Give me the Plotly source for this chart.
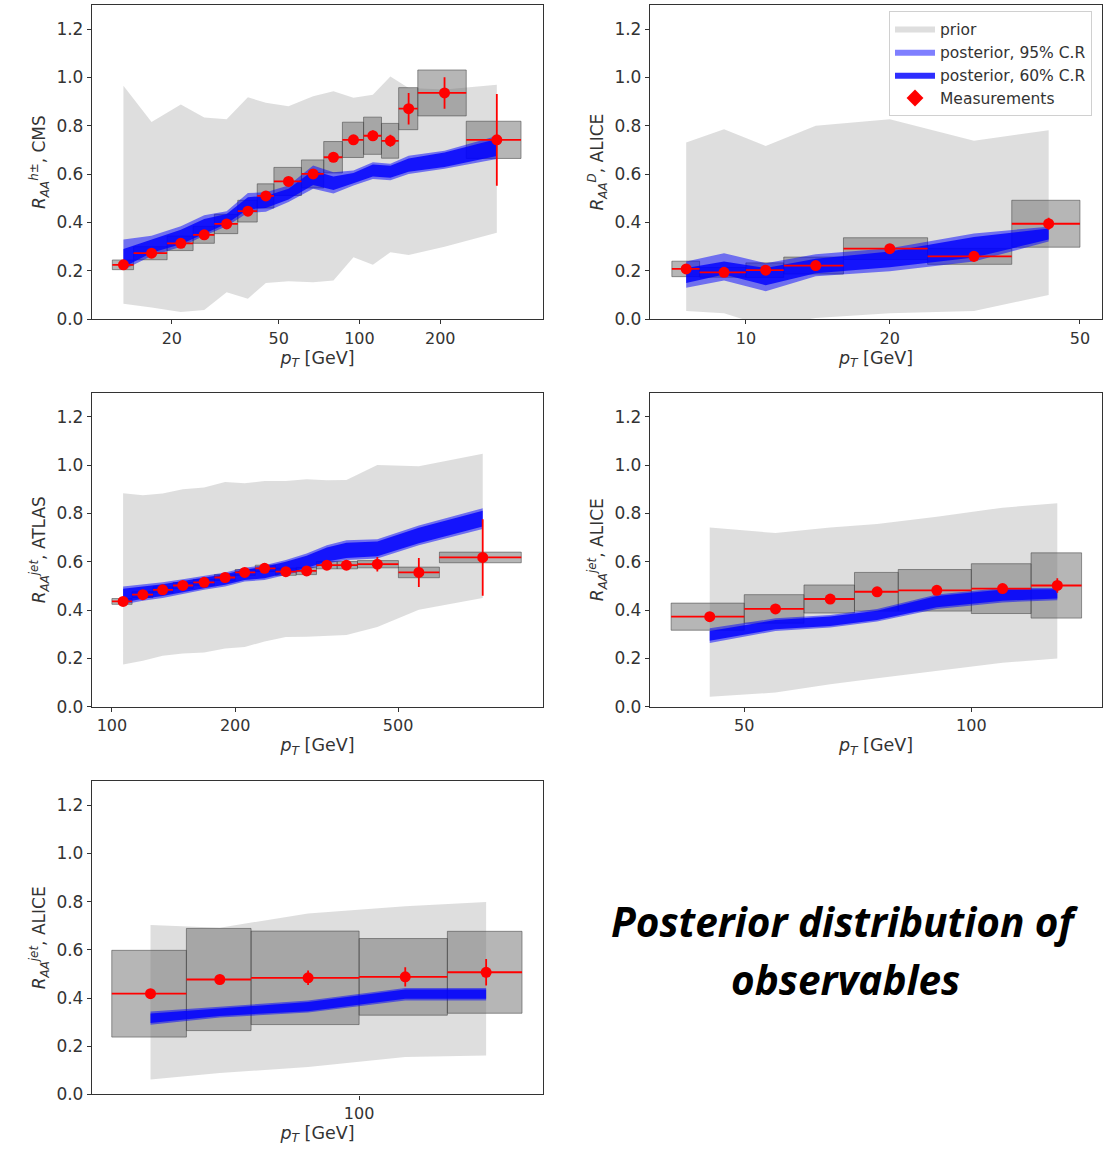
import math
import plotly.graph_objects as go

# ---------------- data ----------------
# Panel 1: charged hadrons, CMS
cms_edges = [12, 14.4, 19.2, 24, 28.8, 35.2, 41.6, 48, 60.8, 73.6, 86.4, 103.6, 120.8, 140, 165, 250, 400]
cms_pt = [13.2, 16.8, 21.6, 26.4, 32.0, 38.4, 44.8, 54.4, 67.2, 80.0, 95.0, 112.2, 130.4, 152.5, 207.5, 325]
cms_raa = [0.225, 0.273, 0.314, 0.349, 0.394, 0.447, 0.51, 0.57, 0.601, 0.67, 0.742, 0.759, 0.738, 0.871, 0.936, 0.742]
cms_stat = [0.01, 0.01, 0.01, 0.01, 0.01, 0.012, 0.012, 0.012, 0.015, 0.015, 0.02, 0.022, 0.025, 0.065, 0.065, 0.19]
cms_sys = [0.02, 0.027, 0.03, 0.035, 0.04, 0.045, 0.05, 0.058, 0.058, 0.065, 0.073, 0.077, 0.072, 0.087, 0.095, 0.077]
cms_prior_hi = [0.966, 0.816, 0.888, 0.834, 0.827, 0.918, 0.895, 0.881, 0.922, 0.943, 0.916, 0.929, 1.004, 0.957, 0.95, 0.97]
cms_prior_lo = [0.064, 0.048, 0.03, 0.038, 0.112, 0.085, 0.15, 0.157, 0.153, 0.16, 0.256, 0.225, 0.277, 0.266, 0.30, 0.358]
cms_p95_lo = [0.205, 0.262, 0.30, 0.345, 0.385, 0.44, 0.445, 0.485, 0.54, 0.52, 0.553, 0.58, 0.575, 0.601, 0.622, 0.663]
cms_p95_hi = [0.33, 0.345, 0.385, 0.43, 0.447, 0.522, 0.525, 0.553, 0.636, 0.608, 0.615, 0.649, 0.643, 0.676, 0.697, 0.758]
cms_p60_lo = [0.215, 0.275, 0.31, 0.355, 0.395, 0.455, 0.46, 0.495, 0.555, 0.535, 0.562, 0.59, 0.585, 0.61, 0.63, 0.675]
cms_p60_hi = [0.29, 0.33, 0.37, 0.415, 0.435, 0.505, 0.51, 0.54, 0.615, 0.59, 0.605, 0.64, 0.635, 0.665, 0.69, 0.745]

# Panel 2: D mesons, ALICE
dm_edges = [7, 8, 10, 12, 16, 24, 36, 50]
dm_pt = [7.5, 9, 11, 14, 20, 30, 43]
dm_raa = [0.208, 0.194, 0.203, 0.222, 0.292, 0.26, 0.395]
dm_stat = [0.012, 0.01, 0.012, 0.012, 0.015, 0.022, 0.025]
dm_sys = [0.032, 0.02, 0.03, 0.035, 0.045, 0.033, 0.097]
dm_prior_hi = [0.731, 0.786, 0.717, 0.80, 0.827, 0.738, 0.782]
dm_prior_lo = [0.034, 0.025, -0.03, 0.005, 0.025, 0.034, 0.10]
dm_p95_lo = [0.13, 0.16, 0.116, 0.178, 0.198, 0.239, 0.321]
dm_p95_hi = [0.239, 0.273, 0.232, 0.269, 0.294, 0.355, 0.383]
dm_p60_lo = [0.15, 0.185, 0.141, 0.19, 0.215, 0.255, 0.33]
dm_p60_hi = [0.212, 0.239, 0.212, 0.25, 0.28, 0.34, 0.375]

# Panel 3: jets, ATLAS
at_edges = [100, 112, 126, 141, 158, 178, 200, 224, 251, 282, 316, 355, 398, 501, 631, 1000]
at_pt = [106.5, 119, 133, 149, 168, 189, 211, 236, 266, 299, 335, 374, 445, 562, 805]
at_raa = [0.436, 0.464, 0.484, 0.502, 0.515, 0.535, 0.556, 0.573, 0.559, 0.562, 0.586, 0.586, 0.59, 0.556, 0.618]
at_stat = [0.01, 0.01, 0.01, 0.01, 0.01, 0.01, 0.01, 0.012, 0.012, 0.012, 0.015, 0.015, 0.03, 0.06, 0.158]
at_sys = [0.012, 0.012, 0.012, 0.012, 0.012, 0.012, 0.012, 0.013, 0.015, 0.015, 0.015, 0.015, 0.015, 0.022, 0.022]
at_prior_hi = [0.884, 0.875, 0.882, 0.90, 0.907, 0.93, 0.925, 0.934, 0.934, 0.941, 0.937, 0.938, 1.0, 0.995, 1.047]
at_prior_lo = [0.175, 0.191, 0.211, 0.221, 0.225, 0.241, 0.248, 0.27, 0.289, 0.29, 0.293, 0.297, 0.33, 0.402, 0.45]
at_p95_lo = [0.423, 0.439, 0.45, 0.466, 0.484, 0.498, 0.518, 0.525, 0.545, 0.566, 0.593, 0.607, 0.614, 0.668, 0.736]
at_p95_hi = [0.498, 0.505, 0.515, 0.528, 0.543, 0.556, 0.575, 0.586, 0.607, 0.634, 0.668, 0.689, 0.693, 0.75, 0.821]
at_p60_lo = [0.432, 0.447, 0.458, 0.474, 0.491, 0.505, 0.525, 0.532, 0.553, 0.574, 0.601, 0.616, 0.623, 0.677, 0.746]
at_p60_hi = [0.488, 0.496, 0.507, 0.52, 0.535, 0.548, 0.568, 0.579, 0.6, 0.625, 0.659, 0.679, 0.684, 0.741, 0.811]

# Panel 4: jets, ALICE
aj_edges = [40, 50, 60, 70, 80, 100, 120, 140]
aj_pt = [45, 55, 65, 75, 90, 110, 130]
aj_raa = [0.373, 0.405, 0.446, 0.476, 0.482, 0.489, 0.502]
aj_stat = [0.008, 0.01, 0.01, 0.012, 0.012, 0.015, 0.03]
aj_sys = [0.056, 0.059, 0.058, 0.08, 0.086, 0.103, 0.135]
aj_prior_hi = [0.742, 0.719, 0.742, 0.756, 0.786, 0.824, 0.842]
aj_prior_lo = [0.042, 0.059, 0.093, 0.118, 0.15, 0.182, 0.2]
aj_p95_lo = [0.264, 0.314, 0.328, 0.353, 0.405, 0.432, 0.441]
aj_p95_hi = [0.325, 0.366, 0.38, 0.405, 0.465, 0.492, 0.492]
aj_p60_lo = [0.273, 0.321, 0.334, 0.359, 0.412, 0.439, 0.448]
aj_p60_hi = [0.314, 0.359, 0.374, 0.397, 0.458, 0.485, 0.486]

# Panel 5: jets, ALICE (second set)
bj_edges = [60, 70, 80, 100, 120, 140]
bj_pt = [65, 75, 90, 110, 130]
bj_raa = [0.418, 0.477, 0.484, 0.488, 0.507]
bj_stat = [0.01, 0.02, 0.03, 0.04, 0.055]
bj_sys = [0.18, 0.212, 0.194, 0.159, 0.17]
bj_prior_hi = [0.703, 0.692, 0.751, 0.781, 0.799]
bj_prior_lo = [0.062, 0.089, 0.114, 0.155, 0.162]
bj_p95_lo = [0.289, 0.319, 0.34, 0.39, 0.39]
bj_p95_hi = [0.344, 0.363, 0.39, 0.442, 0.442]
bj_p60_lo = [0.297, 0.326, 0.345, 0.397, 0.397]
bj_p60_hi = [0.336, 0.356, 0.384, 0.435, 0.435]

y_ticks = [0.0, 0.2, 0.4, 0.6, 0.8, 1.0, 1.2]

panels = [
    dict(edges=cms_edges, pt=cms_pt, raa=cms_raa, stat=cms_stat, sys=cms_sys,
         prior=(cms_prior_lo, cms_prior_hi), p95=(cms_p95_lo, cms_p95_hi), p60=(cms_p60_lo, cms_p60_hi),
         xr=(10.08, 483), xt=[20, 50, 100, 200],
         ytitle="<i>R</i><sub><i>AA</i></sub><sup><i>h±</i></sup>, CMS"),
    dict(edges=dm_edges, pt=dm_pt, raa=dm_raa, stat=dm_stat, sys=dm_sys,
         prior=(dm_prior_lo, dm_prior_hi), p95=(dm_p95_lo, dm_p95_hi), p60=(dm_p60_lo, dm_p60_hi),
         xr=(6.3, 55.6), xt=[10, 20, 50],
         ytitle="<i>R</i><sub><i>AA</i></sub><sup><i>D</i></sup>, ALICE"),
    dict(edges=at_edges, pt=at_pt, raa=at_raa, stat=at_stat, sys=at_sys,
         prior=(at_prior_lo, at_prior_hi), p95=(at_p95_lo, at_p95_hi), p60=(at_p60_lo, at_p60_hi),
         xr=(89.4, 1130), xt=[100, 200, 500],
         ytitle="<i>R</i><sub><i>AA</i></sub><sup><i>jet</i></sup>, ATLAS"),
    dict(edges=aj_edges, pt=aj_pt, raa=aj_raa, stat=aj_stat, sys=aj_sys,
         prior=(aj_prior_lo, aj_prior_hi), p95=(aj_p95_lo, aj_p95_hi), p60=(aj_p60_lo, aj_p60_hi),
         xr=(37.5, 149), xt=[50, 100],
         ytitle="<i>R</i><sub><i>AA</i></sub><sup><i>jet</i></sup>, ALICE"),
    dict(edges=bj_edges, pt=bj_pt, raa=bj_raa, stat=bj_stat, sys=bj_sys,
         prior=(bj_prior_lo, bj_prior_hi), p95=(bj_p95_lo, bj_p95_hi), p60=(bj_p60_lo, bj_p60_hi),
         xr=(57.6, 146.2), xt=[100],
         ytitle="<i>R</i><sub><i>AA</i></sub><sup><i>jet</i></sup>, ALICE"),
]

W, H = 1107, 1156
# pixel boxes (left, right, top, bottom)
boxes_px = [(92, 543, 5, 322), (650, 1102, 5, 322),
            (92, 543, 396, 713), (650, 1102, 396, 713),
            (92, 543, 788, 1104)]

PRIOR_C = "rgba(200,200,200,0.6)"
P95_C = "rgba(0,0,255,0.5)"
P60_C = "rgba(0,0,255,0.82)"
RED = "#ff0000"
AXC = "#333333"
FONT = "DejaVu Sans"

fig = go.Figure()
layout = dict(width=W, height=H, margin=dict(l=0, r=0, t=0, b=0),
              paper_bgcolor="white", plot_bgcolor="white", showlegend=True)


def band(x, lo, hi):
    return list(x) + list(x[::-1]), list(hi) + list(lo[::-1])


for i, p in enumerate(panels):
    n = i + 1
    xa = "x" if n == 1 else f"x{n}"
    ya = "y" if n == 1 else f"y{n}"
    first = (i == 0)
    # prior
    bx, by = band(p["pt"], *p["prior"])
    fig.add_trace(go.Scatter(x=bx, y=by, xaxis=xa, yaxis=ya, mode="lines", fill="toself",
                             fillcolor=PRIOR_C, line=dict(width=0, color=PRIOR_C),
                             name="prior", showlegend=first, legendrank=1, hoverinfo="skip"))
    # systematic boxes
    sx, sy = [], []
    for k in range(len(p["pt"])):
        lo_e, hi_e = p["edges"][k], p["edges"][k + 1]
        b = p["raa"][k] - p["sys"][k]
        t = p["raa"][k] + p["sys"][k]
        sx += [lo_e, hi_e, hi_e, lo_e, lo_e, None]
        sy += [b, b, t, t, b, None]
    fig.add_trace(go.Scatter(x=sx, y=sy, xaxis=xa, yaxis=ya, mode="lines", fill="toself",
                             fillcolor="rgba(110,110,110,0.5)",
                             line=dict(width=1, color="rgba(70,70,70,0.55)"),
                             showlegend=False, hoverinfo="skip"))
    # posterior 95
    bx, by = band(p["pt"], *p["p95"])
    fig.add_trace(go.Scatter(x=bx, y=by, xaxis=xa, yaxis=ya, mode="lines", fill="toself",
                             fillcolor=P95_C, line=dict(width=0, color=P95_C),
                             name="posterior, 95% C.R", showlegend=first, legendrank=2, hoverinfo="skip"))
    # posterior 60
    bx, by = band(p["pt"], *p["p60"])
    fig.add_trace(go.Scatter(x=bx, y=by, xaxis=xa, yaxis=ya, mode="lines", fill="toself",
                             fillcolor=P60_C, line=dict(width=0, color=P60_C),
                             name="posterior, 60% C.R", showlegend=first, legendrank=3, hoverinfo="skip"))
    # measurements
    ex_plus = [p["edges"][k + 1] - p["pt"][k] for k in range(len(p["pt"]))]
    ex_minus = [p["pt"][k] - p["edges"][k] for k in range(len(p["pt"]))]
    fig.add_trace(go.Scatter(x=p["pt"], y=p["raa"], xaxis=xa, yaxis=ya, mode="markers",
                             marker=dict(color=RED, size=11, symbol="circle"),
                             error_x=dict(type="data", array=ex_plus, arrayminus=ex_minus,
                                          symmetric=False, color=RED, thickness=1.8, width=0),
                             error_y=dict(type="data", array=p["stat"], color=RED, thickness=1.8, width=0),
                             showlegend=False, name="Measurements"))

    l, r, t, b = boxes_px[i]
    layout["xaxis" if n == 1 else f"xaxis{n}"] = dict(
        type="log", domain=[l / W, r / W], anchor=ya,
        range=[math.log10(p["xr"][0]), math.log10(p["xr"][1])],
        tickmode="array", tickvals=p["xt"], ticktext=[str(v) for v in p["xt"]],
        ticks="outside", ticklen=4, tickcolor=AXC, tickwidth=1,
        showline=True, linecolor=AXC, linewidth=1.3, mirror=True,
        showgrid=False, zeroline=False,
        tickfont=dict(family=FONT, size=16, color=AXC),
        title=dict(text="<i>p</i><sub><i>T</i></sub> [GeV]", standoff=4,
                   font=dict(family=FONT, size=17.5, color=AXC)),
    )
    layout["yaxis" if n == 1 else f"yaxis{n}"] = dict(
        domain=[1 - b / H, 1 - t / H], anchor=xa, range=[0, 1.3],
        tickmode="array", tickvals=y_ticks, ticktext=[f"{v:.1f}" for v in y_ticks],
        ticks="outside", ticklen=4, tickcolor=AXC, tickwidth=1,
        showline=True, linecolor=AXC, linewidth=1.3, mirror=True,
        showgrid=False, zeroline=False,
        tickfont=dict(family=FONT, size=17, color=AXC),
        title=dict(text=p["ytitle"], standoff=6,
                   font=dict(family=FONT, size=17, color=AXC)),
    )

# legend-only entry for measurements
fig.add_trace(go.Scatter(x=[None], y=[None], mode="markers",
                         marker=dict(color=RED, size=13, symbol="diamond"),
                         name="Measurements", showlegend=True, legendrank=4))

layout["legend"] = dict(x=1092 / W, xanchor="right", y=1 - 11 / H, yanchor="top",
                        bgcolor="rgba(255,255,255,0.85)", bordercolor="#d0d0d0", borderwidth=1,
                        font=dict(family=FONT, size=15.5, color=AXC), traceorder="normal",
                        itemwidth=40, tracegroupgap=0)

layout["annotations"] = [
    dict(text="<b><i>Posterior distribution of</i></b>", x=845 / W, y=1 - 930 / H,
         xref="paper", yref="paper", showarrow=False, xanchor="center", yanchor="middle",
         font=dict(family="Open Sans", size=40.5, color="black")),
    dict(text="<b><i>observables</i></b>", x=845 / W, y=1 - 988 / H,
         xref="paper", yref="paper", showarrow=False, xanchor="center", yanchor="middle",
         font=dict(family="Open Sans", size=40.5, color="black")),
]

fig.update_layout(**layout)
fig.write_html("out.html")
